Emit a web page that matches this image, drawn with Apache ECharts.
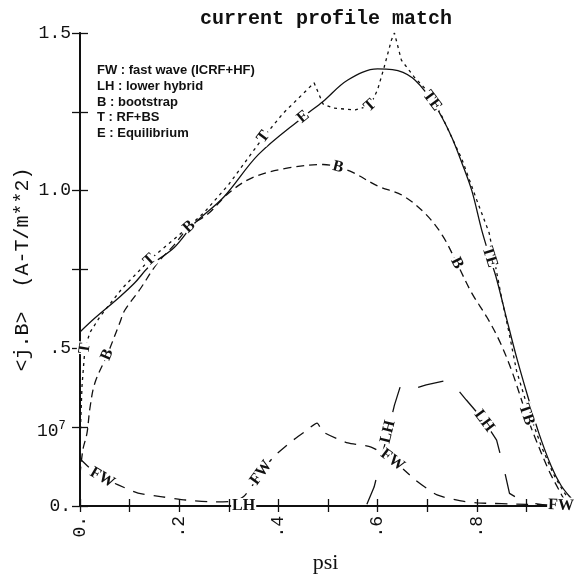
<!DOCTYPE html>
<html>
<head>
<meta charset="utf-8">
<script src="https://cdn.jsdelivr.net/npm/echarts@6/dist/echarts.min.js"></script>
<style>
  html, body { margin: 0; padding: 0; background: #fff; }
  #chart { width: 574px; height: 580px; }
</style>
</head>
<body>
<div id="chart"></div>
<script>
// Equilibrium current profile (E)
const ePsi = [0, 0.03, 0.08, 0.11, 0.14, 0.19, 0.23, 0.29, 0.36, 0.45, 0.49, 0.54, 0.60, 0.63, 0.67, 0.71, 0.73, 0.75, 0.77, 0.79, 0.81, 0.826, 0.84, 0.86, 0.88, 0.905, 0.925, 0.95, 0.97, 0.99, 1.0];
const eVal = [0.552, 0.596, 0.663, 0.707, 0.76, 0.82, 0.895, 0.98, 1.115, 1.234, 1.283, 1.351, 1.386, 1.384, 1.358, 1.285, 1.232, 1.168, 1.088, 1.0, 0.875, 0.79, 0.72, 0.595, 0.473, 0.336, 0.232, 0.127, 0.065, 0.025, 0.01];

// RF + bootstrap total (T)
const tPsi = [0, 0.004, 0.01, 0.02, 0.04, 0.085, 0.14, 0.2, 0.25, 0.30, 0.37, 0.41, 0.472, 0.49, 0.51, 0.555, 0.585, 0.60, 0.613, 0.628, 0.634, 0.648, 0.674, 0.704, 0.73, 0.77, 0.80, 0.825, 0.85, 0.865, 0.88, 0.905, 0.93, 0.955, 0.975, 0.99];
const tVal = [0.2, 0.38, 0.5, 0.55, 0.6, 0.69, 0.78, 0.86, 0.93, 1.02, 1.17, 1.246, 1.342, 1.275, 1.262, 1.256, 1.27, 1.32, 1.39, 1.478, 1.5, 1.414, 1.36, 1.31, 1.235, 1.10, 0.97, 0.866, 0.66, 0.55, 0.43, 0.30, 0.19, 0.10, 0.045, 0.015];

// Bootstrap current (B)
const bPsi = [0, 0.006, 0.014, 0.02, 0.03, 0.055, 0.08, 0.09, 0.12, 0.156, 0.19, 0.22, 0.26, 0.30, 0.35, 0.42, 0.49, 0.52, 0.55, 0.60, 0.65, 0.695, 0.73, 0.76, 0.79, 0.82, 0.845, 0.87, 0.90, 0.917, 0.945, 0.966, 0.98];
const bVal = [0.1, 0.18, 0.23, 0.31, 0.39, 0.48, 0.58, 0.62, 0.685, 0.77, 0.828, 0.885, 0.929, 0.993, 1.043, 1.072, 1.083, 1.075, 1.058, 1.015, 0.985, 0.929, 0.86, 0.77, 0.675, 0.6, 0.526, 0.431, 0.29, 0.219, 0.114, 0.05, 0.01];

// Fast wave current (FW)
const fPsi = [0, 0.02, 0.045, 0.077, 0.117, 0.166, 0.213, 0.267, 0.31, 0.33, 0.35, 0.365, 0.39, 0.425, 0.457, 0.478, 0.49, 0.54, 0.587, 0.63, 0.676, 0.72, 0.768, 0.8, 0.9, 0.97, 0.99];
const fVal = [0.15, 0.12, 0.09, 0.067, 0.041, 0.029, 0.019, 0.013, 0.015, 0.03, 0.07, 0.105, 0.155, 0.203, 0.24, 0.263, 0.235, 0.2, 0.187, 0.146, 0.083, 0.035, 0.016, 0.01, 0.005, 0.002, 0];

// Lower hybrid current (LH)
const lPsi = [0, 0.33, 0.577, 0.593, 0.621, 0.634, 0.648, 0.678, 0.698, 0.745, 0.779, 0.815, 0.84, 0.854, 0.866, 0.895, 0.95];
const lVal = [0, 0, 0, 0.06, 0.235, 0.32, 0.39, 0.374, 0.384, 0.40, 0.336, 0.27, 0.209, 0.124, 0.04, 0.013, 0];

const xTickText = { 0: '0.', 2: '.2', 4: '.4', 6: '.6', 8: '.8' };
const yTickText = { 0: '0.', 50: '.5', 100: '1.0', 150: '1.5' };

const legendLines = [
  'FW : fast wave (ICRF+HF)',
  'LH : lower hybrid',
  'B : bootstrap',
  'T : RF+BS',
  'E : Equilibrium'
];

// curve letters printed on the lines, as [psi, text]
const tagsE = [[0.45, 'E'], [0.71, 'TE'], [0.826, 'TE']];
const tagsT = [[0.01, 'T'], [0.14, 'T'], [0.37, 'T'], [0.585, 'T']];
const tagsB = [[0.055, 'B'], [0.22, 'B'], [0.52, 'B'], [0.76, 'B'], [0.90, 'TB']];
const tagsF = [[0.045, 'FW'], [0.365, 'FW'], [0.63, 'FW'], [0.97, 'FW']];
const tagsL = [[0.33, 'LH'], [0.621, 'LH'], [0.815, 'LH']];

const X_PX = 496, Y_PX = 315;   // pixels per data unit, for label tilt

function buildData(psi, val, tags) {
  return psi.map((p, i) => {
    const tag = tags.find(t => Math.abs(t[0] - p) < 1e-9);
    if (!tag) return [p, val[i]];
    const a = Math.max(0, i - 1), b = Math.min(psi.length - 1, i + 1);
    const dx = (psi[b] - psi[a]) * X_PX;
    const dy = (val[b] - val[a]) * Y_PX;
    let ang = Math.atan2(dy, dx) * 180 / Math.PI;
    if (ang > 90) ang -= 180;
    if (ang < -90) ang += 180;
    return {
      value: [p, val[i]],
      label: {
        show: true,
        formatter: tag[1],
        rotate: ang,
        position: 'inside',
        fontFamily: 'Liberation Serif',
        fontSize: 16,
        fontWeight: 'bold',
        color: '#111',
        backgroundColor: '#fff',
        padding: [0, 1]
      }
    };
  });
}

function curve(name, psi, val, tags, dash, smooth) {
  return {
    name: name,
    type: 'line',
    xAxisIndex: 0,
    yAxisIndex: 0,
    data: buildData(psi, val, tags),
    symbol: 'circle',
    symbolSize: 0,
    showSymbol: true,
    smooth: smooth,
    lineStyle: { color: '#111', width: 1.3, type: dash },
    label: { show: false },
    emphasis: { disabled: true },
    animation: false
  };
}

const chart = echarts.init(document.getElementById('chart'), null, { renderer: 'canvas' });

const monoFont = 'Liberation Mono';

chart.setOption({
  backgroundColor: '#fff',
  animation: false,
  title: {
    text: 'current profile match',
    left: 195,
    top: 4,
    textStyle: { fontFamily: monoFont, fontSize: 20, fontWeight: 'bold', color: '#111' }
  },
  grid: { left: 80, right: 3, top: 33, bottom: 74, containLabel: false },
  xAxis: [
    {
      type: 'value', position: 'bottom', min: 0, max: 0.99, interval: 0.1,
      name: 'psi', nameLocation: 'middle', nameGap: 46,
      nameTextStyle: { fontFamily: 'Liberation Serif', fontSize: 22, color: '#111' },
      axisLine: { show: true, lineStyle: { color: '#111', width: 2 } },
      axisTick: { show: true, inside: true, length: 7, lineStyle: { color: '#111', width: 1.3 } },
      axisLabel: {
        rotate: 90, margin: 10,
        fontFamily: monoFont, fontSize: 18, color: '#111',
        formatter: v => xTickText[Math.round(v * 10)] || ''
      },
      splitLine: { show: false }
    },
    {
      type: 'value', position: 'top', min: 0, max: 0.99, interval: 0.1,
      axisLine: { show: true, lineStyle: { color: '#111', width: 1.5 } },
      axisTick: { show: true, inside: true, length: 6, lineStyle: { color: '#111', width: 1.3 } },
      axisLabel: { show: false },
      splitLine: { show: false }
    }
  ],
  yAxis: [
    {
      type: 'value', position: 'left', min: 0, max: 1.5, interval: 0.25,
      name: '<j.B>  (A-T/m**2)', nameLocation: 'middle', nameGap: 47, nameRotate: 90,
      nameMoveOverlap: false,
      nameTextStyle: { fontFamily: monoFont, fontSize: 20, color: '#111' },
      axisLine: { show: true, lineStyle: { color: '#111', width: 2 } },
      axisTick: { show: true, inside: true, length: 8, lineStyle: { color: '#111', width: 1.3 } },
      axisLabel: {
        margin: 9, fontFamily: monoFont, fontSize: 18, color: '#111',
        formatter: v => yTickText[Math.round(v * 100)] || ''
      },
      splitLine: { show: false }
    },
    {
      type: 'value', position: 'right', min: 0, max: 1.5, interval: 0.25,
      axisLine: { show: true, lineStyle: { color: '#111', width: 1.5 } },
      axisTick: { show: true, inside: true, length: 8, lineStyle: { color: '#111', width: 1.3 } },
      axisLabel: { show: false },
      splitLine: { show: false }
    }
  ],
  graphic: [
    {
      type: 'text', left: 37, top: 420, silent: true,
      style: {
        text: '{a|10}{b|7}',
        rich: {
          a: { fontFamily: monoFont, fontSize: 18, fill: '#111', color: '#111' },
          b: { fontFamily: monoFont, fontSize: 12, fill: '#111', color: '#111', padding: [0, 0, 10, 0] }
        }
      }
    }
  ].concat(legendLines.map((line, i) => ({
    type: 'text', left: 97, top: 64 + i * 15.8, silent: true,
    style: { text: line, fontFamily: 'Liberation Sans', fontSize: 13, fontWeight: 'bold', fill: '#111' }
  }))),
  series: [
    curve('E', ePsi, eVal, tagsE, 'solid', 0.35),
    curve('T', tPsi, tVal, tagsT, [3, 4], false),
    curve('B', bPsi, bVal, tagsB, [8, 5], 0.35),
    curve('FW', fPsi, fVal, tagsF, [12, 9], 0.2),
    curve('LH', lPsi, lVal, tagsL, [26, 22], false)
  ]
});
</script>
</body>
</html>
